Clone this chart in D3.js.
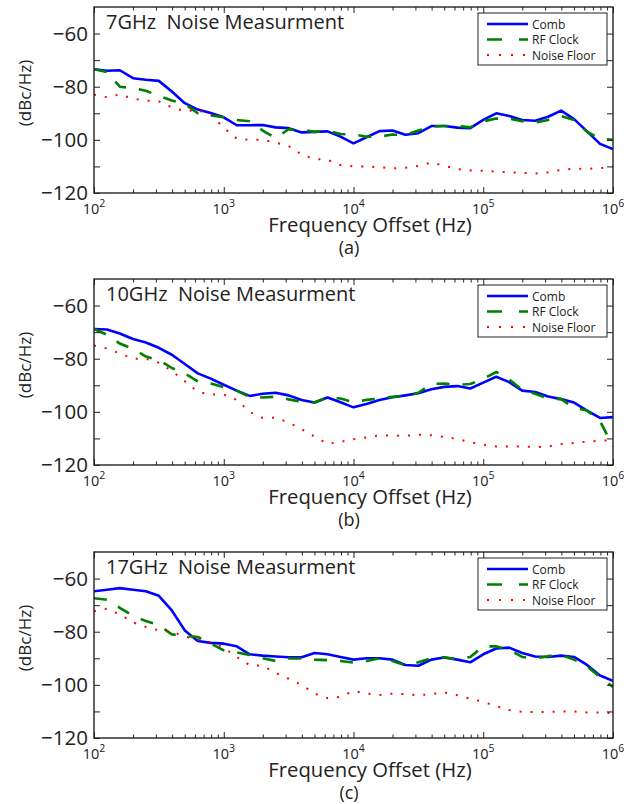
<!DOCTYPE html>
<html>
<head>
<meta charset="utf-8">
<script src="https://cdn.jsdelivr.net/npm/d3@7"></script>
<style>
  body { margin: 0; background: #fff; }
  svg { display: block; font-family: "Open Sans", "Noto Sans", sans-serif; }
</style>
</head>
<body>
<svg id="chart" width="627" height="804"></svg>
<script>
// frequency offsets (Hz), log spaced, shared by every trace
const freqs = [100, 126, 158, 200, 251, 316, 398, 501, 631, 794,
  1000, 1259, 1585, 1995, 2512, 3162, 3981, 5012, 6310, 7943,
  10000, 12589, 15849, 19953, 25119, 31623, 39811, 50119, 63096, 79433,
  100000, 125893, 158489, 199526, 251189, 316228, 398107, 501187, 630957, 794328,
  1000000];

// 7 GHz
const comb7 = [-73.4, -74.0, -73.8, -76.8, -77.4, -77.8, -81.8, -86.2, -88.6, -89.9,
  -91.5, -94.5, -94.5, -94.4, -95.3, -95.6, -97.2, -97.0, -96.8, -98.8,
  -101.3, -99.0, -96.7, -96.5, -98.1, -97.5, -94.8, -94.8, -95.4, -95.6,
  -92.5, -90.0, -91.0, -92.5, -92.8, -91.3, -89.0, -92.2, -96.8, -101.5, -103.5];
const clock7 = [-73.4, -74.5, -80.0, -80.5, -81.5, -83.5, -85.2, -86.5, -90.0, -90.8,
  -91.5, -92.5, -93.0, -96.5, -99.3, -96.0, -96.2, -97.0, -96.5, -97.8,
  -98.0, -98.8, -98.8, -98.0, -98.2, -96.5, -95.0, -94.8, -94.8, -95.3,
  -93.0, -92.0, -92.0, -93.0, -93.5, -92.5, -91.0, -92.5, -97.0, -99.5, -100.0];
const floor7 = [-83.0, -84.0, -82.9, -84.5, -85.2, -85.5, -87.8, -89.2, -88.8, -90.5,
  -95.5, -99.5, -100.0, -100.0, -101.0, -102.3, -105.5, -107.2, -107.5, -109.5,
  -110.0, -110.0, -110.3, -110.7, -110.5, -109.8, -108.5, -109.8, -111.0, -111.5,
  -111.6, -112.0, -112.2, -112.4, -112.7, -112.2, -111.3, -110.8, -110.9, -110.7, -110.0];

// 10 GHz
const comb10 = [-68.8, -69.0, -70.5, -72.6, -73.9, -75.9, -78.5, -82.0, -85.5, -87.5,
  -89.8, -92.0, -94.0, -93.2, -92.8, -93.8, -95.5, -96.5, -94.6, -96.4,
  -98.3, -97.0, -95.5, -94.5, -93.8, -93.0, -91.5, -90.6, -90.3, -91.2,
  -89.0, -86.8, -88.8, -92.0, -92.5, -94.2, -95.2, -96.5, -99.5, -102.3, -102.0];
const clock10 = [-68.8, -71.0, -74.3, -76.3, -79.2, -80.5, -83.5, -85.5, -88.5, -89.3,
  -90.7, -92.0, -94.4, -94.6, -94.3, -95.3, -96.2, -96.5, -94.5, -95.0,
  -96.4, -95.5, -95.0, -94.3, -94.0, -92.8, -89.5, -89.3, -89.8, -89.5,
  -87.6, -85.0, -87.8, -91.7, -93.2, -95.0, -95.2, -98.5, -99.5, -103.5, -113.0];
const floor10 = [-75.0, -76.2, -78.0, -80.0, -80.0, -81.5, -84.6, -88.5, -92.5, -93.5,
  -93.5, -95.5, -100.0, -102.3, -102.2, -104.0, -106.5, -109.3, -112.0, -111.3,
  -110.3, -109.6, -108.8, -109.0, -109.0, -108.6, -108.8, -109.4, -110.2, -111.4,
  -112.3, -113.0, -113.0, -113.0, -113.3, -113.0, -112.2, -111.7, -111.2, -110.9, -110.6];

// 17 GHz
const comb17 = [-64.8, -64.2, -63.6, -64.2, -64.8, -66.5, -72.0, -79.5, -83.5, -84.2,
  -84.5, -85.5, -88.5, -89.0, -89.3, -89.6, -89.6, -88.0, -88.5, -89.5,
  -90.5, -90.0, -90.0, -90.5, -92.5, -92.8, -90.5, -89.7, -90.5, -91.5,
  -88.5, -86.3, -86.0, -88.0, -89.3, -89.5, -89.0, -89.5, -92.5, -96.5, -98.5];
const clock17 = [-67.4, -68.0, -71.0, -74.0, -76.0, -77.5, -81.0, -81.5, -82.0, -84.5,
  -87.0, -87.8, -88.8, -90.0, -91.0, -90.1, -90.1, -90.5, -90.7, -91.0,
  -91.6, -91.0, -90.0, -91.0, -92.6, -91.5, -90.0, -89.6, -90.4, -89.5,
  -85.5, -85.5, -86.8, -89.5, -90.1, -89.2, -88.8, -90.5, -93.0, -97.0, -100.8];
const floor17 = [-72.3, -71.3, -73.5, -76.5, -78.2, -79.5, -80.0, -81.8, -83.0, -84.0,
  -86.0, -89.5, -92.6, -92.8, -95.5, -97.7, -100.0, -103.3, -105.0, -104.5,
  -102.3, -103.3, -103.8, -103.3, -103.5, -103.9, -103.5, -102.8, -103.9, -105.2,
  -106.4, -108.0, -109.5, -110.2, -110.2, -110.2, -110.0, -110.0, -110.4, -110.4, -110.6];

const panelTitles = ["7GHz  Noise Measurment", "10GHz  Noise Measurment", "17GHz  Noise Measurment"];
const panelTags = ["(a)", "(b)", "(c)"];
const seriesNames = ["Comb", "RF Clock", "Noise Floor"];
const yTicks = [-120, -110, -100, -90, -80, -70, -60];
const xDecades = [1e2, 1e3, 1e4, 1e5, 1e6];

const panels = [
  { title: panelTitles[0], tag: panelTags[0], data: [comb7, clock7, floor7] },
  { title: panelTitles[1], tag: panelTags[1], data: [comb10, clock10, floor10] },
  { title: panelTitles[2], tag: panelTags[2], data: [comb17, clock17, floor17] }
];

const styles = [
  { color: "#0000ff", width: 2.6, dash: null },
  { color: "#008000", width: 2.6, dash: "13,13" },
  { color: "#ff0000", width: 2, dash: "2,9" }
];

const left = 94, right = 613, h = 186;
const tops = [7, 279, 552];
const ink = "#222";
const font = '"Open Sans", "Noto Sans", sans-serif';

const svg = d3.select("#chart");

const x = d3.scaleLog().domain([1e2, 1e6]).range([left, right]);

// minor ticks 2..9 in every decade
const minor = [];
xDecades.slice(0, -1).forEach(d => { for (let k = 2; k < 10; k++) minor.push(d * k); });

panels.forEach((p, i) => {
  const top = tops[i];
  const y = d3.scaleLinear().domain([-120, -50]).range([top + h, top]);
  const g = svg.append("g");

  g.append("clipPath").attr("id", "clip" + i)
    .append("rect").attr("x", left).attr("y", top).attr("width", right - left).attr("height", h);

  // traces
  const line = d3.line().x((d, j) => x(freqs[j])).y(d => y(d));
  p.data.forEach((vals, s) => {
    const st = styles[s];
    g.append("path")
      .attr("clip-path", `url(#clip${i})`)
      .attr("d", line(vals))
      .attr("fill", "none")
      .attr("stroke", st.color)
      .attr("stroke-width", st.width)
      .attr("stroke-linejoin", "round")
      .attr("stroke-dasharray", st.dash);
  });

  // ticks, all pointing inward
  g.append("g").attr("transform", `translate(0,${top + h})`)
    .call(d3.axisBottom(x).tickValues(xDecades).tickSize(-6).tickFormat(""));
  g.append("g").attr("transform", `translate(0,${top + h})`)
    .call(d3.axisBottom(x).tickValues(minor).tickSize(-3.5).tickFormat(""));
  g.append("g").attr("transform", `translate(0,${top})`)
    .call(d3.axisTop(x).tickValues(xDecades).tickSize(-6).tickFormat(""));
  g.append("g").attr("transform", `translate(0,${top})`)
    .call(d3.axisTop(x).tickValues(minor).tickSize(-3.5).tickFormat(""));
  const yAxis = g.append("g").attr("transform", `translate(${left},0)`)
    .call(d3.axisLeft(y).tickValues(yTicks).tickSize(-6).tickPadding(6)
      .tickFormat(d => d % 20 === 0 ? d3.format("d")(d) : ""))
    .attr("font-family", font).attr("font-size", 20.5);
  yAxis.selectAll("text").attr("fill", ink);
  g.append("g").attr("transform", `translate(${right},0)`)
    .call(d3.axisRight(y).tickValues(yTicks).tickSize(-6).tickFormat(""));

  g.selectAll(".domain").remove();
  g.selectAll(".tick line").attr("stroke", ink).attr("stroke-width", 1);

  // decade labels 10^n
  xDecades.forEach(d => {
    const t = g.append("text")
      .attr("x", x(d)).attr("y", top + h + 21)
      .attr("text-anchor", "middle")
      .attr("font-size", 14.5).attr("fill", ink);
    t.append("tspan").text("10");
    t.append("tspan").attr("dy", -7).attr("font-size", 10.5).text(Math.round(Math.log10(d)));
  });

  // frame
  g.append("rect")
    .attr("x", left).attr("y", top).attr("width", right - left).attr("height", h)
    .attr("fill", "none").attr("stroke", ink).attr("stroke-width", 1.4);

  // title
  g.append("text").attr("x", left + 12).attr("y", top + 22)
    .style("white-space", "pre")
    .attr("font-size", 20).attr("fill", ink).text(p.title);

  // axis labels
  g.append("text")
    .attr("transform", `translate(31,${top + 86}) rotate(-90)`)
    .attr("text-anchor", "middle").attr("font-size", 17).attr("fill", ink)
    .text("(dBc/Hz)");
  g.append("text").attr("x", 370).attr("y", top + 225)
    .attr("text-anchor", "middle").attr("font-size", 20.3).attr("fill", ink)
    .text("Frequency Offset (Hz)");
  g.append("text").attr("x", 349).attr("y", top + 247)
    .attr("text-anchor", "middle").attr("font-size", 18).attr("fill", ink)
    .text(p.tag);

  // legend
  const lg = g.append("g").attr("transform", `translate(478,${top + 6})`);
  lg.append("rect").attr("width", 129).attr("height", 52)
    .attr("fill", "#fff").attr("stroke", ink).attr("stroke-width", 1);
  seriesNames.forEach((name, s) => {
    const st = styles[s];
    const ly = 11 + s * 15.5;
    lg.append("line").attr("x1", 9).attr("x2", 50).attr("y1", ly).attr("y2", ly)
      .attr("stroke", st.color).attr("stroke-width", st.width)
      .attr("stroke-dasharray", s === 1 ? "15,17" : s === 2 ? "2,10" : null);
    lg.append("text").attr("x", 54).attr("y", ly + 4.5)
      .attr("font-size", 12).attr("fill", ink).text(name);
  });
});
</script>
</body>
</html>
